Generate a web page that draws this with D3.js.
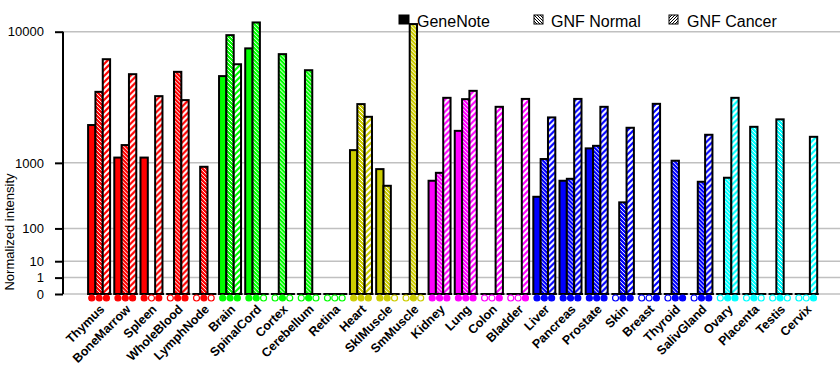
<!DOCTYPE html>
<html>
<head>
<meta charset="utf-8">
<script src="https://cdn.jsdelivr.net/npm/d3@7"></script>
<style>
  html, body { margin: 0; padding: 0; background: #fff; }
  svg { display: block; }
  text { font-family: Arial, "Liberation Sans", sans-serif; }
</style>
</head>
<body>
<svg id="chart" width="840" height="385"></svg>
<script>
// ---------------- data ----------------
const categories = ["Thymus","BoneMarrow","Spleen","WholeBlood","LymphNode","Brain","SpinalCord","Cortex","Cerebellum","Retina",
  "Heart","SklMuscle","SmMuscle","Kidney","Lung","Colon","Bladder","Liver","Pancreas","Prostate","Skin","Breast","Thyroid",
  "SalivGland","Ovary","Placenta","Testis","Cervix"];
const seriesNames = ["GeneNote", "GNF Normal", "GNF Cancer"];
// null = not measured (open marker)
const geneNote  = [2320, 1140, 1140, null, null, 5400, 8040, null, null, null,
  1360, 850, null, 614, 2065, null, null, 370, 614, 1416, null, null, null,
  null, null, null, null, null];
const gnfNormal = [4210, 1525, null, 5760, 904, 9570, 11220, 7430, 5900, null,
  3420, 528, 11000, 769, 3725, null, null, 1100, 650, 1500, 304, null, 1055,
  596, 670, 2240, 2590, null];
const gnfCancer = [6920, 5560, 3920, 3665, null, 6440, null, null, null, null,
  2717, null, null, 3810, 4280, 3260, 3740, 2686, 3740, 3260, 2198, 3436, 0,
  1905, 3810, null, null, 1825];
const tissueSystem = ["a","a","a","a","a","b","b","b","b","b","c","c","c","d","d","d","d",
  "e","e","e","e","e","e","e","f","f","f","f"];
const yTickValues = [0, 1, 10, 100, 1000, 10000];

// ---------------- styles ----------------
const systemColor = { a: "#ff0000", b: "#00ff00", c: "#cccc00", d: "#ff00ff", e: "#0000ff", f: "#00ffff" };

const svg = d3.select("#chart");
const W = 840;
const plotTop = 31.7, plotBottom = 294, axisX = 63;

const x = d3.scaleBand().domain(categories).range([86, 819.3]).paddingInner(0).paddingOuter(0);
const xs = d3.scaleBand().domain(seriesNames).range([-11, 11]);
const y = d3.scalePow().exponent(Math.log10(2)).domain([0, 10000]).range([plotBottom, plotTop]);

// ---------- patterns ----------
const defs = svg.append("defs");
Object.entries(systemColor).forEach(([k, col]) => {
  const pn = defs.append("pattern").attr("id", "normal-" + k).attr("patternUnits", "userSpaceOnUse")
    .attr("width", 4).attr("height", 4);
  pn.append("rect").attr("width", 4).attr("height", 4).attr("fill", col);
  pn.append("path").attr("d", "M-1,-1 L5,5 M-1,3 L1,5 M3,-1 L5,1").attr("stroke", "#fff").attr("stroke-width", 1);
  const pc = defs.append("pattern").attr("id", "cancer-" + k).attr("patternUnits", "userSpaceOnUse")
    .attr("width", 6).attr("height", 6);
  pc.append("rect").attr("width", 6).attr("height", 6).attr("fill", col);
  pc.append("path").attr("d", "M-1,7 L7,-1 M-1,1 L1,-1 M5,7 L7,5").attr("stroke", "#fff").attr("stroke-width", 2);
});
// legend patterns (black on white)
const ln = defs.append("pattern").attr("id", "leg-normal").attr("patternUnits", "userSpaceOnUse").attr("width", 3).attr("height", 3);
ln.append("rect").attr("width", 3).attr("height", 3).attr("fill", "#fff");
ln.append("path").attr("d", "M-1,-1 L4,4 M-1,2 L1,4 M2,-1 L4,1").attr("stroke", "#000").attr("stroke-width", 1);
const lc = defs.append("pattern").attr("id", "leg-cancer").attr("patternUnits", "userSpaceOnUse").attr("width", 3).attr("height", 3);
lc.append("rect").attr("width", 3).attr("height", 3).attr("fill", "#fff");
lc.append("path").attr("d", "M-1,4 L4,-1 M-1,1 L1,-1 M2,4 L4,2").attr("stroke", "#000").attr("stroke-width", 1);

// ---------- gridlines ----------
svg.append("g").selectAll("line").data(yTickValues).join("line")
  .attr("x1", axisX).attr("x2", W)
  .attr("y1", d => y(d)).attr("y2", d => y(d))
  .attr("stroke", "#c0c0c0").attr("stroke-width", 1.5);

// ---------- y axis ----------
const yAxis = svg.append("g").attr("transform", `translate(${axisX},0)`)
  .call(d3.axisLeft(y).tickValues(yTickValues).tickSize(8).tickPadding(11).tickFormat(d3.format("d")));
yAxis.select(".domain").attr("stroke", "#000").attr("stroke-width", 2).attr("d", `M0,${plotTop}V${plotBottom}`);
yAxis.selectAll(".tick line").attr("stroke", "#000").attr("stroke-width", 2);
yAxis.selectAll(".tick text").attr("fill", "#000").style("font-size", "13px")
  .style("font-family", "Arial, 'Liberation Sans', sans-serif");

svg.append("text")
  .attr("transform", `translate(14,232) rotate(-90)`)
  .attr("text-anchor", "middle")
  .style("font-size", "13px")
  .text("Normalized intensity");

// ---------- bars ----------
const rows = categories.map((c, i) => ({
  cat: c, sys: tissueSystem[i],
  vals: [geneNote[i], gnfNormal[i], gnfCancer[i]]
}));

const groups = svg.append("g").selectAll("g").data(rows).join("g")
  .attr("transform", d => `translate(${x(d.cat) + x.bandwidth() / 2},0)`);

// baseline segments
groups.append("line")
  .attr("x1", -11.5).attr("x2", 12.5)
  .attr("y1", y(0)).attr("y2", y(0))
  .attr("stroke", "#000").attr("stroke-width", 2);

groups.selectAll("rect.bar")
  .data(d => d.vals.map((v, j) => ({ v, j, sys: d.sys })).filter(e => e.v !== null && e.v > 0))
  .join("rect").attr("class", "bar")
  .attr("x", e => xs(seriesNames[e.j]))
  .attr("width", xs.bandwidth())
  .attr("y", e => y(e.v))
  .attr("height", e => y(0) - y(e.v))
  .attr("fill", e => e.j === 0 ? systemColor[e.sys] : (e.j === 1 ? `url(#normal-${e.sys})` : `url(#cancer-${e.sys})`))
  .attr("stroke", "#000").attr("stroke-width", 2);

// presence markers
groups.selectAll("circle")
  .data(d => d.vals.map((v, j) => ({ v, j, sys: d.sys })))
  .join("circle")
  .attr("cx", e => xs(seriesNames[e.j]) + xs.bandwidth() / 2)
  .attr("cy", 298)
  .attr("r", 3)
  .attr("fill", e => e.v !== null ? systemColor[e.sys] : "#fff")
  .attr("stroke", e => systemColor[e.sys])
  .attr("stroke-width", 1.2);

// category labels
groups.append("text")
  .attr("transform", "translate(6,310) rotate(-45)")
  .attr("text-anchor", "end")
  .style("font-size", "12.5px")
  .style("font-weight", "bold")
  .text(d => d.cat);

// ---------- legend ----------
const legend = svg.append("g");
const legendItems = [
  { name: seriesNames[0], x: 399, fill: "#000", tx: 417 },
  { name: seriesNames[1], x: 534, fill: "url(#leg-normal)", tx: 551 },
  { name: seriesNames[2], x: 669, fill: "url(#leg-cancer)", tx: 687 }
];
legend.selectAll("rect").data(legendItems).join("rect")
  .attr("x", d => d.x).attr("y", 15).attr("width", d => d.name === "GeneNote" ? 10 : 9).attr("height", 9)
  .attr("fill", d => d.fill).attr("stroke", "#000").attr("stroke-width", 1);
legend.selectAll("text").data(legendItems).join("text")
  .attr("x", d => d.tx).attr("y", 27)
  .style("font-size", "16px")
  .text(d => d.name);
</script>
</body>
</html>
